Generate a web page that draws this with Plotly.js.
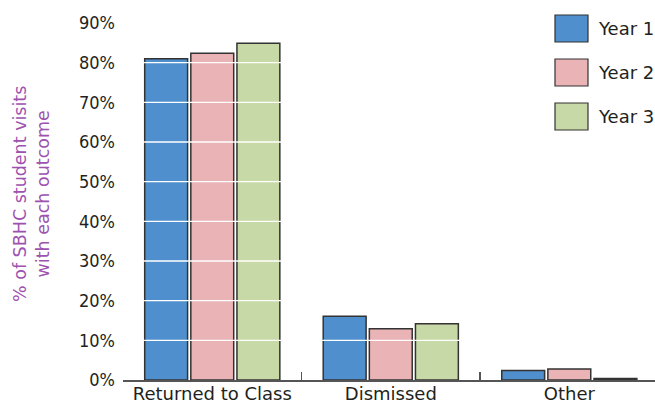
<!DOCTYPE html>
<html>
<head>
<meta charset="utf-8">
<script src="https://cdn.plot.ly/plotly-3.0.1.min.js"></script>
<style>html,body{margin:0;padding:0;background:#fff;}#chart{width:655px;height:406px;}</style>
</head>
<body>
<div id="chart"></div>
<script>
const categories = ["Returned to Class", "Dismissed", "Other"];
const seriesNames = ["Year 1", "Year 2", "Year 3"];
const year1 = [81.0, 16.1, 2.4];
const year2 = [82.4, 12.9, 2.8];
const year3 = [84.9, 14.2, 0.4];
const yTicks = [0, 10, 20, 30, 40, 50, 60, 70, 80, 90];
const yTitle = "% of SBHC student visits<br>with each outcome";
const colors = ["#4f8fcd", "#eab3b5", "#c6d9a6"];

const W = 655, H = 406;
const M = {l: 123, r: 0, t: 23, b: 26};
const plotW = W - M.l - M.r, plotH = H - M.t - M.b;
const px = x => (x - M.l) / plotW;
const py = y => (H - M.b - y) / plotH;

const seriesVals = [year1, year2, year3];
const traces = seriesVals.map((v, i) => ({
  type: 'bar', x: categories, y: v, name: seriesNames[i],
  marker: {color: colors[i], line: {color: '#333333', width: 1.5}},
  hoverinfo: 'skip'
}));

const shapes = [];
// white gridlines drawn above the bars
yTicks.filter(t => t > 0).forEach(t => shapes.push({
  type: 'line', xref: 'paper', yref: 'y', x0: 0, x1: 1, y0: t, y1: t,
  line: {color: '#ffffff', width: 1.3}, layer: 'above'
}));
const annotations = [];
seriesNames.forEach((n, i) => {
  const top = 15 + i * 44, bot = top + 27;
  shapes.push({type: 'rect', xref: 'paper', yref: 'paper',
    x0: px(555), x1: px(588), y0: py(bot), y1: py(top),
    fillcolor: colors[i], line: {color: '#333333', width: 1.2}, layer: 'above'});
  annotations.push({xref: 'paper', yref: 'paper', x: px(596), y: py((top + bot) / 2),
    xanchor: 'left', yanchor: 'middle', text: n, showarrow: false,
    font: {family: 'DejaVu Sans', size: 18, color: '#231f20'}});
});
annotations.push({xref: 'paper', yref: 'paper', x: px(31), y: py(194),
  xanchor: 'center', yanchor: 'middle', textangle: -90, text: yTitle, showarrow: false,
  font: {family: 'DejaVu Sans', size: 17.5, color: '#9e52b0'}});

const layout = {
  width: W, height: H,
  margin: M,
  paper_bgcolor: '#ffffff', plot_bgcolor: '#ffffff',
  showlegend: false,
  barmode: 'group', bargap: 0.225, bargroupgap: 0.07,
  font: {family: 'DejaVu Sans', color: '#231f20'},
  xaxis: {
    type: 'category', range: [-0.5, 2.48], automargin: false,
    showline: true, linecolor: '#555555', linewidth: 1.5,
    ticks: 'inside', tickson: 'boundaries', ticklen: 8, tickcolor: '#555555', tickwidth: 1.5,
    showgrid: false, zeroline: false, ticklabelstandoff: -3,
    tickfont: {family: 'DejaVu Sans', size: 18, color: '#231f20'}
  },
  yaxis: {
    range: [0, 90], automargin: false,
    tickvals: yTicks, ticktext: yTicks.map(t => t + '%'),
    showgrid: false, zeroline: false, showline: false, ticks: '',
    ticklabelstandoff: 7,
    tickfont: {family: 'DejaVu Sans Condensed, DejaVu Sans', size: 18, color: '#231f20'}
  },
  shapes: shapes,
  annotations: annotations
};

Plotly.newPlot('chart', traces, layout, {displayModeBar: false, staticPlot: true});
</script>
</body>
</html>
